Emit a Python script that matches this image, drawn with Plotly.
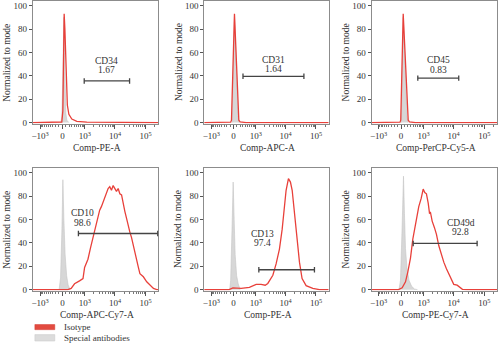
import numpy as np
import plotly.graph_objects as go

# Biexponential-style display scale for the fluorescence channels
A_SCALE, B_WIDTH = 13.03, 383.0


def biex(v):
    return A_SCALE * np.arcsinh(np.asarray(v, dtype=float) / B_WIDTH)


X_MIN, X_MAX = -1750, 262144

# ---- panel metadata -------------------------------------------------------
channels = ["Comp-PE-A", "Comp-APC-A", "Comp-PerCP-Cy5-A",
            "Comp-APC-Cy7-A", "Comp-PE-A", "Comp-PE-Cy7-A"]
markers = ["CD34", "CD31", "CD45", "CD10", "CD13", "CD49d"]
gate_pct = ["1.67", "1.64", "0.83", "98.6", "97.4", "92.8"]
gate_lo = [950, 300, 620, 580, 1280, 400]
gate_hi = [30000, 40000, 14700, 250000, 89000, 58700]
gate_y = [35.6, 39.6, 38.0, 48.0, 17.0, 39.5]

# ---- histograms (x: fluorescence, y: % of mode) ---------------------------
cd34_red_x = [-1750, -167, -18, 12, 32, 50, 71, 92, 113, 145, 193, 294, 501, 1170, 262144]
cd34_red_y = [0, 0, 0.5, 10, 50, 93, 80, 55, 30, 15, 7, 3, 1, 0.3, 0]
cd34_gray_x = [-46, -17, 12, 41, 61, 79, 99, 130, 192]
cd34_gray_y = [0, 5, 40, 90, 60, 25, 8, 2, 0]

cd31_red_x = [-1750, -83, -59, 28, 159, 201, 424, 262144]
cd31_red_y = [0, 0.3, 2, 93, 2, 0.5, 0, 0]
cd31_gray_x = [-45, -25, 28, 92, 139, 170]
cd31_gray_y = [0, 20, 90, 40, 5, 0]

cd45_red_x = [-1750, -31, -9, 62, 216, 258, 501, 262144]
cd45_red_y = [0, 0.3, 2, 93, 2, 0.5, 0, 0]
cd45_gray_x = [-2, 21, 62, 130, 177, 208]
cd45_gray_y = [0, 20, 90, 35, 5, 0]

cd10_red_x = [-1750, 160, 270, 400, 640, 860, 980, 1280, 1570, 1900, 2320, 2780, 3150,
              3590, 4080, 4620, 5230, 5960, 6740, 7670, 8700, 9800, 11200, 12700, 14400,
              16400, 18600, 21000, 23900, 27200, 30800, 34800, 39700, 44900, 51100, 58200,
              65300, 84700, 109000, 140000, 181000, 232000, 262144]
cd10_red_y = [0, 0, 1, 5, 7.5, 9.5, 19, 26, 36, 44.5, 53, 60, 68,
              71, 75, 78, 82, 86.5, 88, 85, 89, 86.5, 84, 86.5, 82,
              81, 72.5, 67, 61, 54, 49, 44.5, 37.5, 30.5, 25, 19,
              13.7, 11, 6.7, 4, 1, 0, 0]
cd10_gray_x = [-97, -54, -16, 13, 42, 78, 123, 169, 235]
cd10_gray_y = [0, 10, 50, 94, 60, 30, 12, 4, 0]

cd13_red_x = [-1750, -127, -19, 235, 580, 810, 1035, 1530, 2100, 2570, 3780, 4840, 6240,
              7670, 9080, 10350, 12360, 14400, 16420, 19420, 23350, 28530, 34800, 47300,
              78500, 129500, 262144]
cd13_red_y = [0, 0, 1.5, 1, 2, 3.4, 4.5, 4.5, 3.8, 5.3, 12.3, 22, 34.7,
              51.5, 71, 85, 95, 92, 85, 65.5, 46, 23.5, 9.5, 3.4,
              1, 0, 0]
cd13_gray_x = [-112, -83, -45, -10, 19, 48, 92, 139, 202]
cd13_gray_y = [0, 8, 50, 92, 60, 30, 12, 5, 0]

cd49d_red_x = [-1750, -75, 32, 130, 202, 295, 383, 455, 550, 675, 828, 976, 1107, 1264,
               1452, 1605, 1731, 1972, 2350, 2735, 3270, 3990, 4765, 5820, 6950, 8270,
               10100, 13030, 15900, 19420, 26200, 262144]
cd49d_red_y = [0, 0, 1.5, 6.7, 15, 27, 43, 52, 62, 71, 78, 86, 83, 82,
               74, 65.5, 66, 58.6, 53, 47.3, 37.5, 29, 23.5, 17.9, 13.7, 9,
               4.5, 3.8, 2, 0.3, 0, 0]
cd49d_gray_x = [-60, -17, 27, 70, 99, 130, 177, 243, 332, 456, 605]
cd49d_gray_y = [0, 8, 50, 97, 65, 35, 18, 8, 3, 0.5, 0]

red_series = [(cd34_red_x, cd34_red_y), (cd31_red_x, cd31_red_y), (cd45_red_x, cd45_red_y),
              (cd10_red_x, cd10_red_y), (cd13_red_x, cd13_red_y), (cd49d_red_x, cd49d_red_y)]
gray_series = [(cd34_gray_x, cd34_gray_y), (cd31_gray_x, cd31_gray_y), (cd45_gray_x, cd45_gray_y),
               (cd10_gray_x, cd10_gray_y), (cd13_gray_x, cd13_gray_y), (cd49d_gray_x, cd49d_gray_y)]

major_ticks = [-1000, 0, 1000, 10000, 100000]
major_text = ["\u221210<sup>3</sup>", "0", "10<sup>3</sup>", "10<sup>4</sup>", "10<sup>5</sup>"]
minor_ticks = ([-v for v in range(100, 1000, 100)] + list(range(100, 1000, 100))
               + list(range(2000, 10000, 1000)) + list(range(20000, 100000, 10000)) + [200000])

# ---- layout geometry (pixels in a 500x348 canvas) --------------------------
W, H = 500, 348
col_px = [(31, 157), (203, 328), (371, 497)]
row_px = [(1, 125), (170, 294)]
# label anchors: (x value, y of marker name, y of percentage)
label_pos = [(5290, 52.8, 45.2), (3870, 53.4, 45.8), (3145, 53.4, 45.2),
             (810, 65.5, 57.1), (1680, 47.3, 39.7), (16800, 57.1, 49.6)]

RED = "#e8403a"
GRAY_FILL = "#d7d7d7"
TEXT = "#333333"
FONT = "Liberation Serif"
Y_RANGE = [-0.85, 104]

fig = go.Figure()
layout = dict(width=W, height=H, margin=dict(l=0, r=0, t=0, b=0),
              paper_bgcolor="white", plot_bgcolor="white", showlegend=False,
              font=dict(family=FONT, size=9, color=TEXT))
shapes, annotations = [], []

for i in range(6):
    r, c = divmod(i, 3)
    x0, x1 = col_px[c]
    y0, y1 = row_px[r]
    sfx = "" if i == 0 else str(i + 1)
    xa, ya = "x" + sfx, "y" + sfx

    gx, gy = gray_series[i]
    fig.add_trace(go.Scatter(x=biex(gx), y=gy, xaxis=xa, yaxis=ya, mode="lines",
                             fill="tozeroy", fillcolor=GRAY_FILL,
                             line=dict(color="#c4c4c4", width=0.6),
                             name="Special antibodies", hoverinfo="skip"))
    rx, ry = red_series[i]
    fig.add_trace(go.Scatter(x=biex(rx), y=ry, xaxis=xa, yaxis=ya, mode="lines",
                             line=dict(color=RED, width=1.3), name="Isotype"))

    layout["xaxis" + sfx] = dict(
        domain=[x0 / W, x1 / W], anchor=ya, range=[float(biex(X_MIN)), float(biex(X_MAX))],
        tickmode="array", tickvals=biex(major_ticks).tolist(), ticktext=major_text,
        ticks="outside", ticklen=4, tickcolor="#555", tickwidth=1,
        minor=dict(tickmode="array", tickvals=biex(minor_ticks).tolist(),
                   ticks="outside", ticklen=2, tickcolor="#777", tickwidth=0.8),
        showline=True, linecolor="#8c8c8c", linewidth=1, mirror=True,
        showgrid=False, zeroline=False, tickfont=dict(size=9, color=TEXT, family=FONT),
        fixedrange=True)
    layout["yaxis" + sfx] = dict(
        domain=[1 - y1 / H, 1 - y0 / H], anchor=xa, range=Y_RANGE,
        tickmode="array", tickvals=[0, 20, 40, 60, 80, 100],
        ticks="outside", ticklen=3, tickcolor="#555", tickwidth=1,
        showline=True, linecolor="#8c8c8c", linewidth=1, mirror=True,
        showgrid=False, zeroline=False, tickfont=dict(size=9, color=TEXT, family=FONT),
        fixedrange=True)

    # gate bar with end caps
    glo, ghi, gyv = float(biex(gate_lo[i])), float(biex(gate_hi[i])), gate_y[i]
    gl = dict(color="#444444", width=1.3)
    for (ax0, ay0, ax1, ay1) in [(glo, gyv, ghi, gyv), (glo, gyv - 2.3, glo, gyv + 2.3),
                                 (ghi, gyv - 2.3, ghi, gyv + 2.3)]:
        shapes.append(dict(type="line", xref=xa, yref=ya, x0=ax0, y0=ay0, x1=ax1, y1=ay1, line=gl))

    lx, ly_name, ly_pct = label_pos[i]
    annotations.append(dict(x=float(biex(lx)), y=ly_name, xref=xa, yref=ya, text=markers[i],
                            showarrow=False, xanchor="center", yanchor="middle",
                            font=dict(size=9.5, color=TEXT, family=FONT)))
    annotations.append(dict(x=float(biex(lx)), y=ly_pct, xref=xa, yref=ya, text=gate_pct[i],
                            showarrow=False, xanchor="center", yanchor="middle",
                            font=dict(size=9.5, color=TEXT, family=FONT)))

    # axis titles
    annotations.append(dict(x=((x0 + x1) / 2 + 1.5) / W, y=1 - (y1 + 24.5) / H,
                            xref="paper", yref="paper", text=channels[i], showarrow=False,
                            xanchor="center", yanchor="middle",
                            font=dict(size=9.5, color=TEXT, family=FONT)))
    annotations.append(dict(x=(x0 - 25.5) / W, y=1 - ((y0 + y1) / 2) / H,
                            xref="paper", yref="paper", text="Normalized to mode",
                            showarrow=False, textangle=-90, xanchor="center", yanchor="middle",
                            font=dict(size=9.5, color=TEXT, family=FONT)))

# legend swatches
legend_items = [("Isotype", "#e24b40", "#d23a30", 328.3, 333.5),
                ("Special antibodies", "#dcdcdc", "#c8c8c8", 338.5, 345)]
for label, fillc, linec, ya0, ya1 in legend_items:
    shapes.append(dict(type="rect", xref="paper", yref="paper", x0=33 / W, x1=53 / W,
                       y0=1 - ya1 / H, y1=1 - ya0 / H, fillcolor=fillc,
                       line=dict(color=linec, width=0.5)))
    annotations.append(dict(x=60 / W, y=1 - ((ya0 + ya1) / 2) / H, xref="paper", yref="paper",
                            text=label, showarrow=False, xanchor="left", yanchor="middle",
                            font=dict(size=9, color=TEXT, family=FONT)))

layout["shapes"] = shapes
layout["annotations"] = annotations
fig.update_layout(**layout)
fig.write_html("out.html")
